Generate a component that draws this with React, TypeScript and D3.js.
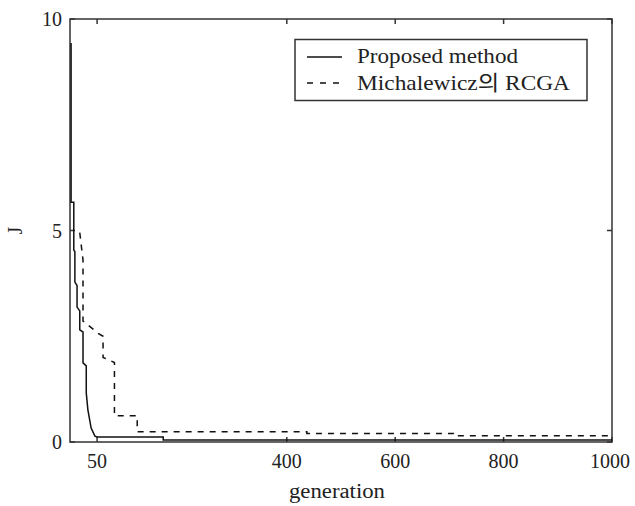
import React from 'react'
import * as d3 from 'd3'

// generation / J values
const proposedGen = [2, 2, 7, 7, 9, 9, 13, 13, 18, 18, 24, 24, 30, 30, 33, 39, 46, 50, 172, 172, 1000]
const proposedJ = [9.43, 5.67, 5.67, 4.54, 4.5, 3.78, 3.7, 3.19, 3.1, 2.65, 2.6, 1.87, 1.8, 1.16, 0.76, 0.33, 0.14, 0.12, 0.12, 0.05, 0.05]

const rcgaGen = [18, 24, 24, 52, 61, 61, 82, 82, 124, 124, 437, 437, 714, 714, 1000]
const rcgaJ = [4.95, 4.3, 2.86, 2.57, 2.5, 2.0, 1.88, 0.62, 0.62, 0.24, 0.24, 0.2, 0.2, 0.15, 0.15]

const xTicks = [50, 400, 600, 800, 1000]
const yTicks = [0, 5, 10]
const legendLabels = ['Proposed method', 'Michalewicz의 RCGA']

const W = 635
const H = 506
const font = "'Liberation Serif', 'Times New Roman', 'Noto Sans CJK KR', serif"

const App = () => {
  let x = d3.scaleLinear().domain([0, 1000]).range([70, 612])
  let y = d3.scaleLinear().domain([0, 10]).range([442, 19])

  let line = d3.line<[number, number]>()
    .x(d => x(d[0]))
    .y(d => y(d[1]))

  let proposed = proposedGen.map((g, i) => [g, proposedJ[i]] as [number, number])
  let rcga = rcgaGen.map((g, i) => [g, rcgaJ[i]] as [number, number])

  let axisColor = '#333'
  let tick = 5

  return (
    <svg width={W} height={H} style={{ position: 'absolute', left: 0, top: 0, background: '#fff' }}>
      <rect x={0} y={0} width={W} height={H} fill="#fff" />

      {/* plot box */}
      <rect x={x(0)} y={y(10)} width={x(1000) - x(0)} height={y(0) - y(10)}
        fill="none" stroke={axisColor} strokeWidth={1.5} />

      {/* x ticks, bottom and top, pointing inwards */}
      {xTicks.map(t => (
        <g key={'x' + t}>
          <line x1={x(t)} x2={x(t)} y1={y(0)} y2={y(0) - tick} stroke={axisColor} strokeWidth={1.5} />
          <line x1={x(t)} x2={x(t)} y1={y(10)} y2={y(10) + tick} stroke={axisColor} strokeWidth={1.5} />
          <text x={x(t) - (t === 1000 ? 2 : 0)} y={y(0) + 26} textAnchor="middle"
            fontFamily={font} fontSize={20} fill="#222">{t}</text>
        </g>
      ))}

      {/* y ticks, left and right */}
      {yTicks.map(t => (
        <g key={'y' + t}>
          <line x1={x(0)} x2={x(0) + tick} y1={y(t)} y2={y(t)} stroke={axisColor} strokeWidth={1.5} />
          <line x1={x(1000)} x2={x(1000) - tick} y1={y(t)} y2={y(t)} stroke={axisColor} strokeWidth={1.5} />
          <text x={x(0) - 8} y={y(t) + 7} textAnchor="end"
            fontFamily={font} fontSize={20} fill="#222">{t}</text>
        </g>
      ))}

      {/* series */}
      <path d={line(rcga) ?? ''} fill="none" stroke="#111" strokeWidth={1.5} strokeDasharray="6,6" />
      <path d={line(proposed) ?? ''} fill="none" stroke="#111" strokeWidth={1.5} />

      {/* axis labels */}
      <text x={337} y={498} textAnchor="middle" fontFamily={font} fontSize={20}
        textLength={96} lengthAdjust="spacingAndGlyphs" fill="#222">generation</text>
      <text transform={`translate(22, ${y(5)}) rotate(-90)`} textAnchor="middle"
        fontFamily={font} fontSize={20} fill="#222">J</text>

      {/* legend */}
      <g>
        <rect x={295} y={39.5} width={292} height={61} fill="#fff" stroke={axisColor} strokeWidth={1.5} />
        <line x1={307} x2={342} y1={57} y2={57} stroke="#111" strokeWidth={1.5} />
        <line x1={307} x2={342} y1={83} y2={83} stroke="#111" strokeWidth={1.5} strokeDasharray="6,7" />
        <text x={357} y={63} fontFamily={font} fontSize={21} textLength={161}
          lengthAdjust="spacingAndGlyphs" fill="#222">{legendLabels[0]}</text>
        <text x={357} y={90} fontFamily={font} fontSize={21} textLength={213}
          lengthAdjust="spacingAndGlyphs" fill="#222">{legendLabels[1]}</text>
      </g>
    </svg>
  )
}

export default App
